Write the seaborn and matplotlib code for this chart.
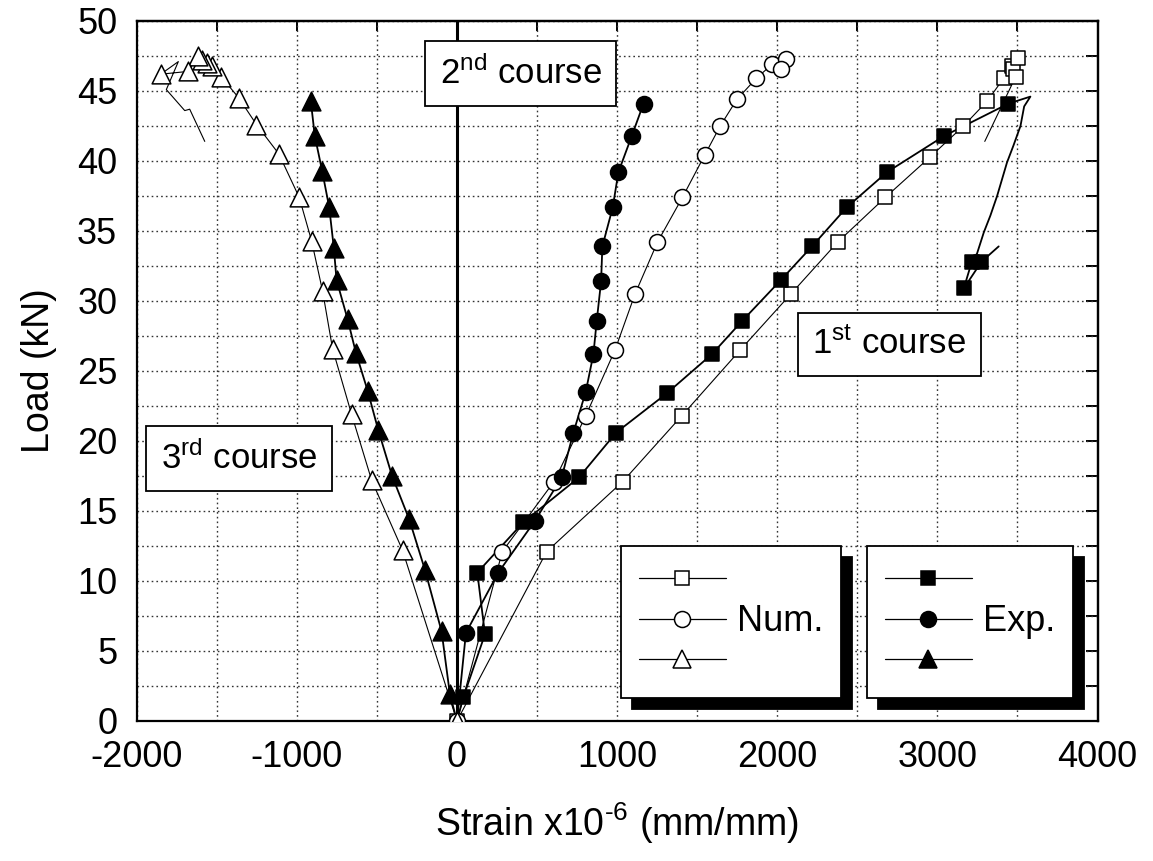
import numpy as np
import pandas as pd
import matplotlib
matplotlib.use("Agg")
import matplotlib.pyplot as plt
from matplotlib.ticker import MultipleLocator, NullFormatter
from matplotlib.lines import Line2D
import seaborn as sns

sns.set_style("white")
plt.rcParams['font.family'] = ['Liberation Sans', 'DejaVu Sans']
plt.rcParams['mathtext.fontset'] = 'custom'
plt.rcParams['mathtext.rm'] = 'Liberation Sans'
plt.rcParams['mathtext.it'] = 'Liberation Sans:italic'
plt.rcParams['axes.unicode_minus'] = False
for k in ("text.color", "axes.labelcolor", "xtick.color", "ytick.color", "axes.edgecolor"):
    plt.rcParams[k] = "black"

# ---------------- data (strain x1e-6, load kN) ----------------
# Numerical, 1st course (open squares)
num1_mk_strain = [0, 560, 1035, 1404, 1769, 2085, 2377, 2675, 2956, 3163, 3313, 3413, 3463, 3475, 3506, 3488]
num1_mk_load = [0, 12.1, 17.1, 21.8, 26.5, 30.5, 34.2, 37.4, 40.3, 42.5, 44.3, 45.9, 46.8, 46.6, 47.35, 46.0]
num1_tail_strain = [3296]
num1_tail_load = [41.4]

# Numerical, 2nd course (open circles)
num2_mk_strain = [0, 283, 606, 804, 987, 1112, 1252, 1408, 1546, 1644, 1748, 1869, 1967, 2056, 2023]
num2_mk_load = [0, 12.1, 17.1, 21.8, 26.5, 30.5, 34.2, 37.4, 40.4, 42.5, 44.4, 45.9, 46.9, 47.3, 46.6]

# Numerical, 3rd course (open triangles)
num3_mk_strain = [0, -340, -533, -658, -777, -839, -908, -985, -1112, -1252, -1362, -1471, -1530, -1560, -1590, -1619, -1679, -1850]
num3_mk_load = [0, 12.2, 17.2, 21.9, 26.6, 30.7, 34.3, 37.4, 40.5, 42.6, 44.5, 46.0, 46.8, 47.0, 47.2, 47.5, 46.4, 46.2]
num3_arc_strain = [-1740]
num3_arc_load = [47.1]
num3_tail_strain = [-1815, -1700, -1669, -1575]
num3_tail_load = [45.1, 43.6, 43.7, 41.4]

# Experimental, 1st course (filled squares)
exp1_strain = [0, 40, 175, 127, 415, 762, 994, 1310, 1592, 1783, 2023, 2217, 2435, 2685, 3044, 3444,
               3581, 3542, 3519, 3475, 3435, 3373, 3331, 3290, 3248, 3215, 3165, 3275, 3383]
exp1_load = [0, 1.7, 6.2, 10.6, 14.2, 17.4, 20.6, 23.4, 26.2, 28.6, 31.5, 33.9, 36.7, 39.2, 41.8, 44.1,
             44.6, 43.9, 42.5, 41.1, 39.9, 37.5, 36.1, 34.9, 33.4, 32.8, 30.9, 32.8, 33.9]
exp1_mk_strain = [40, 175, 127, 415, 762, 994, 1310, 1592, 1783, 2023, 2217, 2435, 2685, 3044, 3444, 3215, 3275, 3165]
exp1_mk_load = [1.7, 6.2, 10.6, 14.2, 17.4, 20.6, 23.4, 26.2, 28.6, 31.5, 33.9, 36.7, 39.2, 41.8, 44.1, 32.8, 32.8, 30.9]

# Experimental, 2nd course (filled circles)
exp2_strain = [0, 56, 258, 487, 654, 727, 804, 852, 873, 900, 908, 973, 1008, 1092, 1165]
exp2_load = [0, 6.3, 10.6, 14.3, 17.4, 20.6, 23.5, 26.2, 28.6, 31.4, 33.9, 36.7, 39.2, 41.8, 44.1]

# Experimental, 3rd course (filled triangles)
exp3_strain = [0, -44, -96, -200, -298, -405, -492, -558, -631, -683, -752, -769, -798, -842, -888, -913]
exp3_load = [0, 1.9, 6.4, 10.8, 14.4, 17.5, 20.8, 23.6, 26.3, 28.7, 31.5, 33.8, 36.7, 39.3, 41.8, 44.3]

course_labels = ["1$^{\\mathregular{st}}$ course", "2$^{\\mathregular{nd}}$ course", "3$^{\\mathregular{rd}}$ course"]
legend_num = "Num."
legend_exp = "Exp."
xlabel = "Strain x10$^{\\mathregular{\u2010 6}}$ (mm/mm)"
ylabel = "Load (kN)"

# ---------------- figure ----------------
W, H, DPI = 1153, 861, 100
fig = plt.figure(figsize=(W / DPI, H / DPI), dpi=DPI)
ax = fig.add_axes([136.7 / W, 1 - 721 / H, 960.8 / W, 700 / H])
ax.set_xlim(-2000, 4000)
ax.set_ylim(0, 50)

def line(xs, ys, lw):
    df = pd.DataFrame({"strain": xs, "load": ys})
    sns.lineplot(data=df, x="strain", y="load", sort=False, estimator=None,
                 color="black", lw=lw, ax=ax, zorder=3)

def marks(xs, ys, marker, size, face):
    df = pd.DataFrame({"strain": xs, "load": ys})
    sns.scatterplot(data=df, x="strain", y="load", marker=marker, s=size ** 2,
                    color=face, edgecolor="black", linewidth=1.1, ax=ax, zorder=4)

# numerical
line(num1_mk_strain + num1_tail_strain, num1_mk_load + num1_tail_load, 0.8)
line(num2_mk_strain, num2_mk_load, 0.8)
line(num3_mk_strain + num3_arc_strain + num3_tail_strain,
     num3_mk_load + num3_arc_load + num3_tail_load, 0.8)
# experimental
line(exp1_strain, exp1_load, 1.3)
line(exp2_strain, exp2_load, 1.3)
line(exp3_strain, exp3_load, 1.3)

SQ, CI, TR = 10.2, 11.5, 13.5
marks(num1_mk_strain, num1_mk_load, "s", SQ, "white")
marks(num2_mk_strain, num2_mk_load, "o", CI, "white")
marks(num3_mk_strain, num3_mk_load, "^", TR, "white")
marks(exp1_mk_strain, exp1_mk_load, "s", SQ, "black")
marks(exp2_strain[1:], exp2_load[1:], "o", CI, "black")
marks(exp3_strain[1:], exp3_load[1:], "^", TR, "black")

ax.axvline(0, color="black", lw=2.2, zorder=2)

# axes styling
ax.xaxis.set_major_locator(MultipleLocator(1000))
ax.xaxis.set_minor_locator(MultipleLocator(500))
ax.yaxis.set_major_locator(MultipleLocator(5))
ax.yaxis.set_minor_locator(MultipleLocator(2.5))
ax.grid(which="both", color="#333333", linestyle=(0, (1.2, 2.2)), lw=1.0)
ax.set_axisbelow(True)
ax.tick_params(which="major", direction="out", length=9, width=1.4, labelsize=26, pad=5)
ax.tick_params(which="minor", direction="out", length=5.5, width=1.2)
for sp in ax.spines.values():
    sp.set_linewidth(1.6)
    sp.set_color("black")
ax.set_xlabel(xlabel, fontsize=27, labelpad=18)
ax.set_ylabel(ylabel, fontsize=27, labelpad=14)

secx = ax.secondary_xaxis("top")
secx.set_xticks(np.arange(-2000, 4001, 500))
secx.xaxis.set_major_formatter(NullFormatter())
secx.tick_params(direction="in", length=7, width=1.4)
secy = ax.secondary_yaxis("right")
secy.set_yticks(np.arange(0, 50.1, 2.5))
secy.yaxis.set_major_formatter(NullFormatter())
secy.tick_params(direction="in", length=9, width=1.4)
for s in (secx, secy):
    for sp in s.spines.values():
        sp.set_linewidth(1.6)

# course labels
box = dict(boxstyle="square,pad=0.42", facecolor="white", edgecolor="black", lw=1.3)
ax.text(0.7833, 0.5376, course_labels[0], transform=ax.transAxes, fontsize=25,
        ha="center", va="center", bbox=box, zorder=6)
ax.text(0.3997, 0.9253, course_labels[1], transform=ax.transAxes, fontsize=25,
        ha="center", va="center", bbox=box, zorder=6)
ax.text(0.1067, 0.3753, course_labels[2], transform=ax.transAxes, fontsize=25,
        ha="center", va="center", bbox=box, zorder=6)

# legends
def handles(face):
    return [Line2D([], [], color="black", lw=0.9, marker=m, markersize=sz,
                   markerfacecolor=face, markeredgecolor="black", markeredgewidth=1.1)
            for m, sz in (("s", SQ), ("o", CI), ("^", TR))]

shadow = {"ox": 8, "oy": -8, "facecolor": "black", "edgecolor": "black", "alpha": 1.0}
common = dict(fontsize=26, loc="upper left", bbox_transform=fig.transFigure,
              borderaxespad=0, frameon=True, fancybox=False, framealpha=1,
              edgecolor="black", handlelength=2.4, handletextpad=0.3,
              labelspacing=0.15, borderpad=0.5, shadow=shadow)
leg1 = ax.legend(handles(face="white"), [" ", legend_num, " "],
                 bbox_to_anchor=(621 / W, 1 - 546 / H), **common)
leg1.get_frame().set_linewidth(1.3)
leg1.set_zorder(7)
ax.add_artist(leg1)
leg2 = ax.legend(handles(face="black"), [" ", legend_exp, " "],
                 bbox_to_anchor=(867 / W, 1 - 546 / H), **common)
leg2.get_frame().set_linewidth(1.3)
leg2.set_zorder(7)

fig.savefig("out.png", dpi=DPI)
